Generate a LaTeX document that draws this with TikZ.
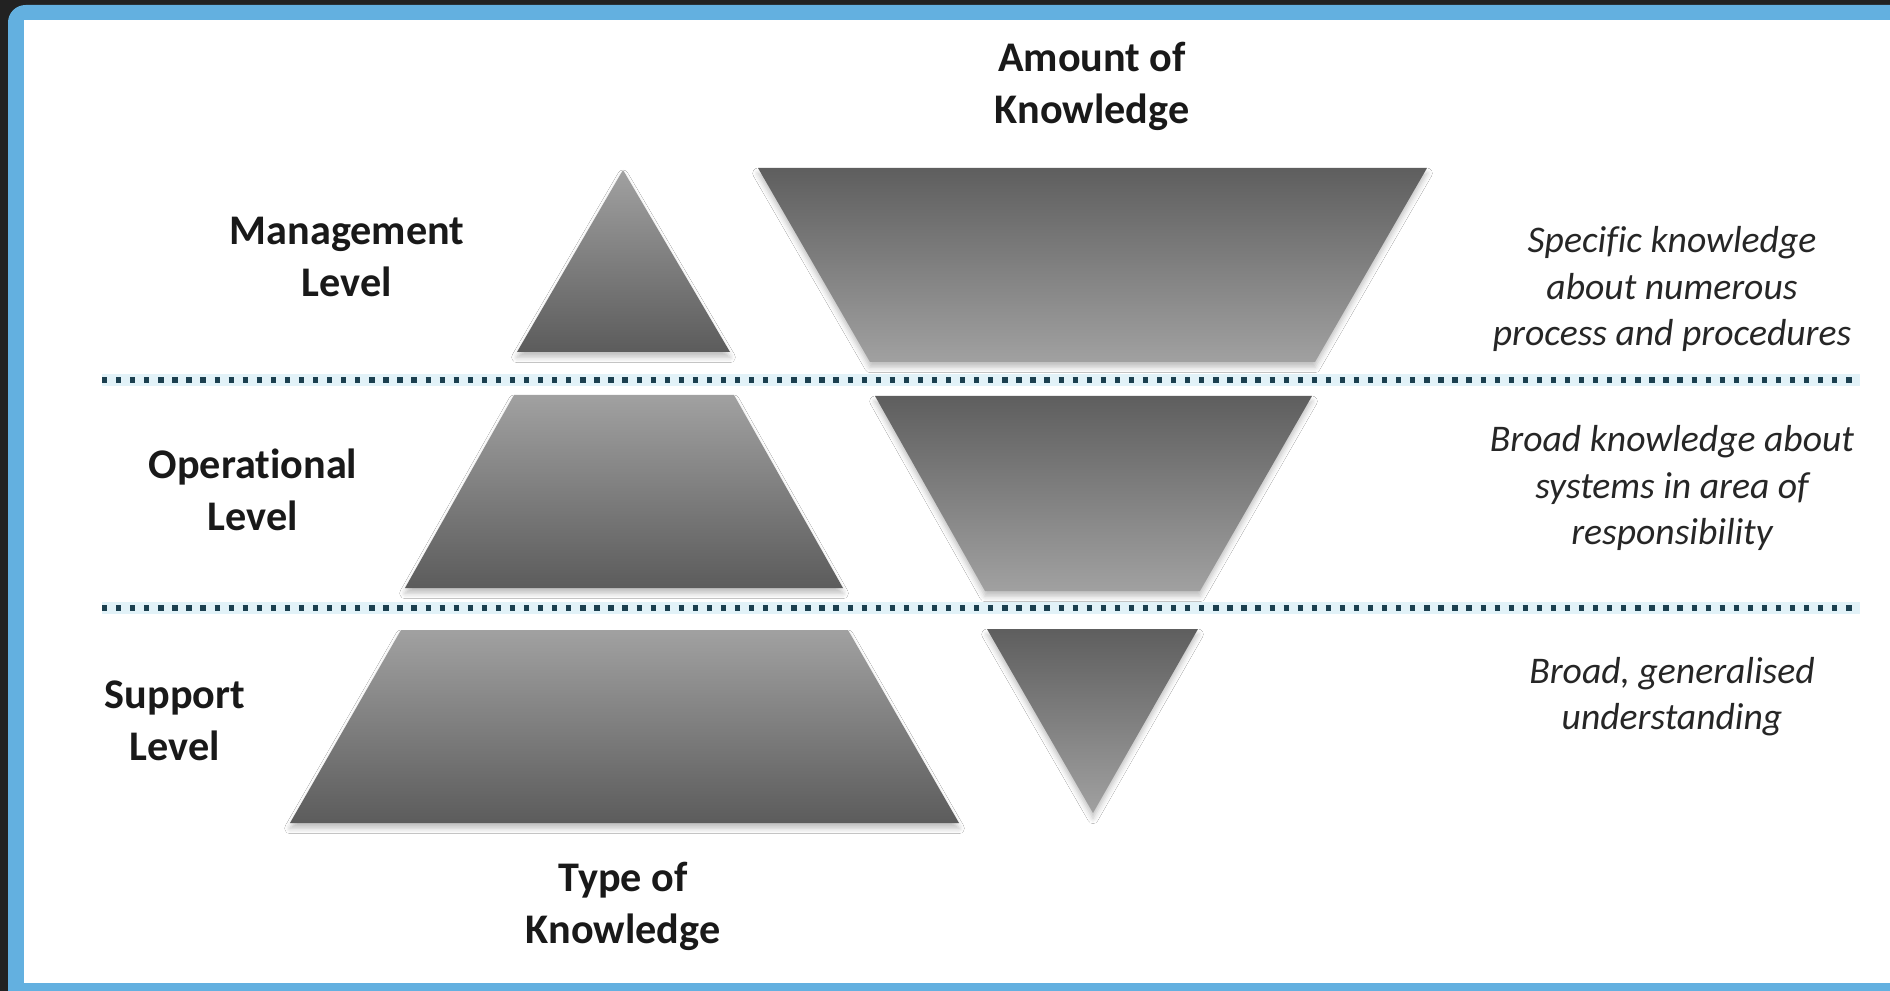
\documentclass[tikz,border=0pt]{standalone}
\usepackage{fontspec}
\setmainfont[Ligatures=NoCommon]{Carlito}
\usetikzlibrary{shadows.blur}
\definecolor{frameblue}{HTML}{63B0E0}
\definecolor{darkbg}{HTML}{222222}
\definecolor{dotteal}{HTML}{1B3F4F}
\definecolor{glowblue}{HTML}{C6E6F3}
\tikzset{
    %Define style for the level labels
    level/.style={
           align=center,
           text=black!90,
           font=\fontsize{12}{14.8}\selectfont\bfseries},
    %Define style for the notes on the right
    note/.style={
           align=center,
           text=black!85,
           font=\fontsize{10.7}{13.1}\selectfont\itshape},
    %Define style for pieces, light at the top
    uppiece/.style={
           top color=black!37,
           bottom color=black!64,
           blur shadow={shadow xshift=0pt, shadow yshift=-1.5pt,
                        shadow blur radius=1.5pt, shadow opacity=25}},
    %Define style for pieces, dark at the top
    downpiece/.style={
           top color=black!63,
           bottom color=black!37,
           blur shadow={shadow xshift=0pt, shadow yshift=-1.5pt,
                        shadow blur radius=1.5pt, shadow opacity=25}},
    % Define dotted separator style
    sepline/.style={
           dotteal,
           line width=1.6pt,
           dash pattern=on 1.5pt off 2.5pt,
           preaction={draw=glowblue, solid, line width=3.4pt, opacity=.5}}
}
\begin{document}
\begin{tikzpicture}[x=0.01cm, y=-0.01cm]
\useasboundingbox (0,0) rectangle (1890,991);
% frame
\fill[darkbg] (0,0) rectangle (1890,991);
\fill[frameblue] (8,991) [rounded corners=5pt] -- (8,5) [sharp corners] -- (1890,5) -- (1890,991) -- cycle;
\fill[white] (24,20) rectangle (1890,983);

% left pyramid
\path[uppiece] (623,170) -- (730,352) -- (517,352) -- cycle;
\path[uppiece] (514,395) -- (734,395) -- (843,588) -- (405,588) -- cycle;
\path[uppiece] (401,630) -- (848,630) -- (959,823) -- (290,823) -- cycle;

% right pyramid
\path[downpiece] (758,168) -- (1427,168) -- (1315,362) -- (870,362) -- cycle;
\path[downpiece] (875,396) -- (1312,396) -- (1200,591) -- (985,591) -- cycle;
\path[downpiece] (987,629) -- (1198,629) -- (1093,813) -- cycle;

% separators
\coordinate (s1a) at (102,380);
\coordinate (s1b) at (1860,380);
\coordinate (s2a) at (102,608);
\coordinate (s2b) at (1860,608);
\draw[sepline] (s1a) -- (s1b);
\draw[sepline] (s2a) -- (s2b);

% labels
\node[level] (amount) at (1092,86) {Amount of\\Knowledge};
\node[level] (type) at (623,906) {Type of\\Knowledge};
\node[level] (mgmt) at (347,257) {Management\\Level};
\node[level] (oper) at (253,490) {Operational\\Level};
\node[level] (supp) at (175,721) {Support\\Level};

\node[note] (specnote) at (1672,289) {Specific knowledge\\about numerous\\process and procedures};
\node[note] (broadnote) at (1672,488) {Broad knowledge about\\systems in area of\\responsibility};
\node[note] (gennote) at (1672,697) {Broad, generalised\\understanding};
\end{tikzpicture}
\end{document}
